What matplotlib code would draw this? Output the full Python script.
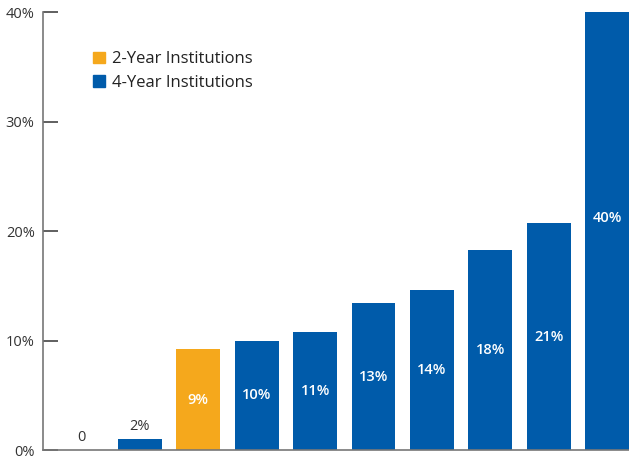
import matplotlib
matplotlib.use("Agg")
import matplotlib.pyplot as plt
from matplotlib.patches import Patch

plt.rcParams['font.family'] = ['Open Sans', 'DejaVu Sans']

values = [0, 1.0, 9.2, 10.0, 10.8, 13.4, 14.6, 18.3, 20.7, 40.0]
labels = ["0", "2%", "9%", "10%", "11%", "13%", "14%", "18%", "21%", "40%"]
kinds = ["4", "4", "2", "4", "4", "4", "4", "4", "4", "4"]
yticks = [0, 10, 20, 30, 40]
yticklabels = ["0%", "10%", "20%", "30%", "40%"]

ORANGE = "#F5A81C"
BLUE = "#005BAA"
colors = [ORANGE if k == "2" else BLUE for k in kinds]

fig = plt.figure(figsize=(6.29, 4.58), dpi=100)
ax = fig.add_axes([43/629, 8/458, 1 - 43/629, (450 - 12.3)/458])

x = list(range(len(values)))
bars = ax.bar(x, values, width=0.75, color=colors, zorder=2)

for xi, v, lab in zip(x, values, labels):
    if v < 5:
        ax.text(xi, v + 0.5, lab, ha="center", va="bottom", fontsize=10.5, color="#333333")
    else:
        yy = v / 2 if v < 30 else v * 0.53
        ax.text(xi, yy, lab, ha="center", va="center", fontsize=10.5, color="white", fontweight="semibold")

ax.set_xlim(-0.66, 9.375)
ax.set_ylim(0, 40)
ax.set_xticks([])
ax.set_yticks(yticks)
ax.set_yticklabels(yticklabels, fontsize=10.5, color="#333333")
ax.tick_params(axis="y", direction="in", length=11, width=1.2, color="#444444", pad=6)
for s in ["top", "right"]:
    ax.spines[s].set_visible(False)
ax.spines["left"].set_color("#777777")
ax.spines["bottom"].set_color("#777777")
ax.spines["left"].set_linewidth(1.2)
ax.spines["bottom"].set_linewidth(1.2)

handles = [Patch(color=ORANGE, label="2-Year Institutions"), Patch(color=BLUE, label="4-Year Institutions")]
ax.legend(handles=handles, loc="upper left", bbox_to_anchor=(0.06, 0.945), frameon=False,
          fontsize=12, handlelength=0.7, handleheight=0.7, handletextpad=0.45, labelspacing=0.45,
          labelcolor="#222222")

fig.savefig("out.png", dpi=100)
